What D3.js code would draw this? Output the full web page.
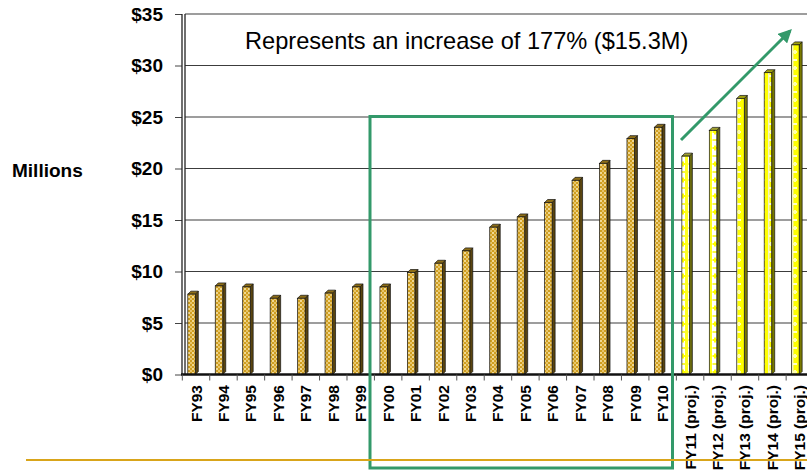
<!DOCTYPE html>
<html><head><meta charset="utf-8">
<script src="https://cdn.jsdelivr.net/npm/d3@7/dist/d3.min.js"></script>
<style>
html,body{margin:0;padding:0;background:#fff;}
svg{display:block;font-family:Arial,"Liberation Sans",sans-serif;}
</style></head>
<body>
<svg id="c" width="807" height="476"></svg>
<script>
const categories = ["FY93","FY94","FY95","FY96","FY97","FY98","FY99","FY00","FY01","FY02","FY03","FY04","FY05","FY06","FY07","FY08","FY09","FY10","FY11 (proj.)","FY12 (proj.)","FY13 (proj.)","FY14 (proj.)","FY15 (proj.)"];
const values = [7.8,8.6,8.5,7.4,7.4,7.9,8.5,8.5,9.9,10.8,12.0,14.3,15.3,16.7,18.85,20.5,22.9,24.0,21.2,23.7,26.8,29.3,32.0];
const kinds = ["hist","hist","hist","hist","hist","hist","hist","hist","hist","hist","hist","hist","hist","hist","hist","hist","hist","hist","projA","projA","projB","projB","projB"];
const yTicks = [0,5,10,15,20,25,30,35];
const annotation = "Represents an increase of 177% ($15.3M)";
const yTitle = "Millions";

const svg = d3.select("#c");
const x = d3.scaleBand().domain(categories).range([182.3, 813.6]);
const y = d3.scaleLinear().domain([0,35]).range([374.5, 14]);

// patterns
const defs = svg.append("defs");
const pH = defs.append("pattern").attr("id","pHist").attr("patternUnits","userSpaceOnUse").attr("width",4).attr("height",4);
pH.append("rect").attr("width",4).attr("height",4).attr("fill","#cf9e20");
pH.append("rect").attr("x",0).attr("y",0).attr("width",2).attr("height",2).attr("fill","#f0d890");
pH.append("rect").attr("x",2).attr("y",2).attr("width",2).attr("height",2).attr("fill","#e6c46a");
const pA = defs.append("pattern").attr("id","pProjA").attr("patternUnits","userSpaceOnUse").attr("width",8).attr("height",16);
pA.append("rect").attr("width",8).attr("height",16).attr("fill","#ffffff");
pA.append("rect").attr("x",5).attr("y",0).attr("width",3).attr("height",16).attr("fill","#ffff20");
pA.append("rect").attr("x",0.5).attr("y",3).attr("width",5).attr("height",2).attr("fill","#ffff00");
pA.append("rect").attr("x",2).attr("y",1.5).attr("width",2).attr("height",5).attr("fill","#ffff00");
pA.append("rect").attr("x",0.5).attr("y",11).attr("width",5).attr("height",2).attr("fill","#f8f840");
const pB = defs.append("pattern").attr("id","pProjB").attr("patternUnits","userSpaceOnUse").attr("width",8).attr("height",16);
pB.append("rect").attr("width",8).attr("height",16).attr("fill","#ffff00");
pB.append("rect").attr("x",0).attr("y",0).attr("width",1.5).attr("height",16).attr("fill","#f4f4c0");
pB.append("rect").attr("x",1).attr("y",3).attr("width",4).attr("height",2).attr("fill","#ffffb0");
pB.append("rect").attr("x",2).attr("y",2).attr("width",2).attr("height",4).attr("fill","#ffffb0");
pB.append("rect").attr("x",1).attr("y",11).attr("width",4).attr("height",2).attr("fill","#ffffcc");

// gridlines
svg.append("g").selectAll("line").data(yTicks.filter(d=>d>0)).join("line")
  .attr("x1",185).attr("x2",807).attr("y1",d=>y(d)).attr("y2",d=>y(d))
  .attr("stroke","#3c3c3c").attr("stroke-width",1.2);

// y axis
const ya = svg.append("g").attr("transform","translate(182,0)")
  .call(d3.axisLeft(y).tickValues(yTicks).tickSize(7).tickPadding(12).tickFormat(d=>"$"+d));
ya.select(".domain").remove();
ya.selectAll(".tick line").attr("stroke","#444");
ya.selectAll(".tick text").attr("font-size",19).attr("font-weight","bold").attr("fill","#000")
  .attr("font-family","Arial, 'Liberation Sans', sans-serif");
svg.append("line").attr("x1",182).attr("x2",182).attr("y1",y(35)).attr("y2",y(0)).attr("stroke","#222").attr("stroke-width",1.3);
svg.append("line").attr("x1",185).attr("x2",185).attr("y1",y(35)).attr("y2",y(0)).attr("stroke","#222").attr("stroke-width",1.3);

// y title
svg.append("text").attr("x",12).attr("y",177).attr("font-size",19).attr("font-weight","bold").text(yTitle);

// bars
const bw = 7.5, dep = 3;
const fills = {hist:"url(#pHist)", projA:"url(#pProjA)", projB:"url(#pProjB)"};
const sides = {hist:"#5a4510", projA:"#6b6b10", projB:"#7a7a00"};
const tops = {hist:"#8c6d18", projA:"#a0a030", projB:"#a0a010"};
const data = categories.map((c,i)=>({c, v:values[i], k:kinds[i]}));
const bars = svg.append("g").selectAll("g").data(data).join("g");
bars.append("path").attr("d",d=>{const x0=x(d.c)+5.5+bw, t=y(d.v), b=y(0); return `M${x0},${t}L${x0+dep},${t-dep}L${x0+dep},${b-dep}L${x0},${b}Z`;})
  .attr("fill",d=>sides[d.k]).attr("stroke","#111").attr("stroke-width",0.7);
bars.append("path").attr("d",d=>{const x0=x(d.c)+5.5, t=y(d.v); return `M${x0},${t}L${x0+dep},${t-dep}L${x0+bw+dep},${t-dep}L${x0+bw},${t}Z`;})
  .attr("fill",d=>tops[d.k]).attr("stroke","#111").attr("stroke-width",0.7);
bars.append("rect").attr("x",d=>x(d.c)+5.5).attr("y",d=>y(d.v)).attr("width",bw).attr("height",d=>y(0)-y(d.v))
  .attr("fill",d=>fills[d.k]).attr("stroke","#111").attr("stroke-width",0.7);

// floor
svg.append("line").attr("x1",181).attr("x2",807).attr("y1",y(0)).attr("y2",y(0)).attr("stroke","#111").attr("stroke-width",2.5);
// x ticks at boundaries
svg.append("g").selectAll("line").data(categories).join("line")
  .attr("x1",d=>x(d)).attr("x2",d=>x(d)).attr("y1",y(0)).attr("y2",y(0)+6)
  .attr("stroke","#555").attr("stroke-width",1);
// x labels
svg.append("g").selectAll("text").data(categories).join("text")
  .attr("transform",d=>`translate(${x(d)+x.bandwidth()/2+5.5},385) rotate(-90)`)
  .attr("text-anchor","end").attr("font-size",15.5).attr("font-weight","bold").text(d=>d);

// annotation
svg.append("text").attr("x",245).attr("y",49).attr("font-size",23.6).attr("fill","#000").text(annotation);

// green box
svg.append("rect").attr("x",370).attr("y",116.5).attr("width",302.5).attr("height",351.5)
  .attr("fill","none").attr("stroke","#33996a").attr("stroke-width",3);

// gold line
svg.append("line").attr("x1",26).attr("x2",807).attr("y1",460).attr("y2",460).attr("stroke","#d9a51a").attr("stroke-width",2);

// arrow
defs.append("marker").attr("id","ah").attr("viewBox","0 0 10 10").attr("refX",8).attr("refY",5)
  .attr("markerWidth",4.5).attr("markerHeight",4.5).attr("orient","auto").attr("markerUnits","strokeWidth")
  .append("path").attr("d","M0,0L10,5L0,10Z").attr("fill","#33996a");
svg.append("line").attr("x1",681).attr("y1",140).attr("x2",790).attr("y2",31)
  .attr("stroke","#33996a").attr("stroke-width",3).attr("marker-end","url(#ah)");
</script>
</body></html>
